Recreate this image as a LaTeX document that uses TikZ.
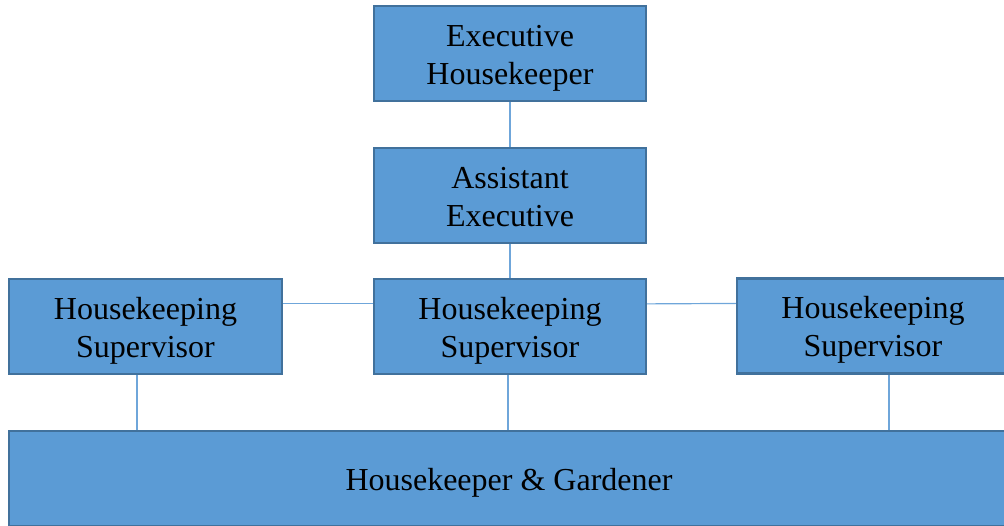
\documentclass[tikz,border=0pt]{standalone}
\usepackage{fontspec}
\setmainfont{Liberation Serif}
\definecolor{boxfill}{HTML}{5B9BD5}
\definecolor{boxedge}{HTML}{41719C}
\definecolor{linkcol}{HTML}{6FA6DA}
\newcommand\boxtext[1]{\raisebox{0pt}[\dimexpr\height+8pt\relax]{\begin{tabular}{@{}c@{}}#1\end{tabular}}}
\begin{document}
\begin{tikzpicture}[x=1pt,y=-1pt,
  orgbox/.style={draw=boxedge, fill=boxfill, line width=2.2pt, minimum height=95pt,
    minimum width=272pt, inner sep=0pt, text=black,
    font=\fontsize{32}{38}\selectfont},
  link/.style={draw=linkcol, line width=1.2pt}]
\useasboundingbox (0,0) rectangle (1004,526);
\clip (0,0) rectangle (1004,526);
\node[orgbox] (exec) at (510,53.5) {\boxtext{Executive\\Housekeeper}};
\node[orgbox] (asst) at (510,195.5) {\boxtext{Assistant\\Executive}};
\node[orgbox, minimum width=273pt] (s1) at (145.5,326.5) {\boxtext{Housekeeping\\Supervisor}};
\node[orgbox] (s2) at (510,326.5) {\boxtext{Housekeeping\\Supervisor}};
\node[orgbox] (s3) at (873,326) {\boxtext{Housekeeping\\Supervisor}};
\node[orgbox, minimum width=1000pt] (bot) at (509,478.5) {\boxtext{Housekeeper \& Gardener}};
\draw[link] (exec.south) -- (asst.north);
\draw[link] (asst.south) -- (s2.north);
\draw[link] ([yshift=-26pt]s1.north east) -- ([yshift=-26pt]s2.north west);
\draw[link] ([yshift=-26pt]s2.north east) -- ([yshift=-26pt]s3.north west);
\draw[link] ([xshift=-8.5pt]s1.south) -- ([xshift=-8.5pt]s1.south |- bot.north);
\draw[link] ([xshift=-2pt]s2.south) -- ([xshift=-2pt]s2.south |- bot.north);
\draw[link] ([xshift=16pt]s3.south) -- ([xshift=16pt]s3.south |- bot.north);
\end{tikzpicture}
\end{document}
